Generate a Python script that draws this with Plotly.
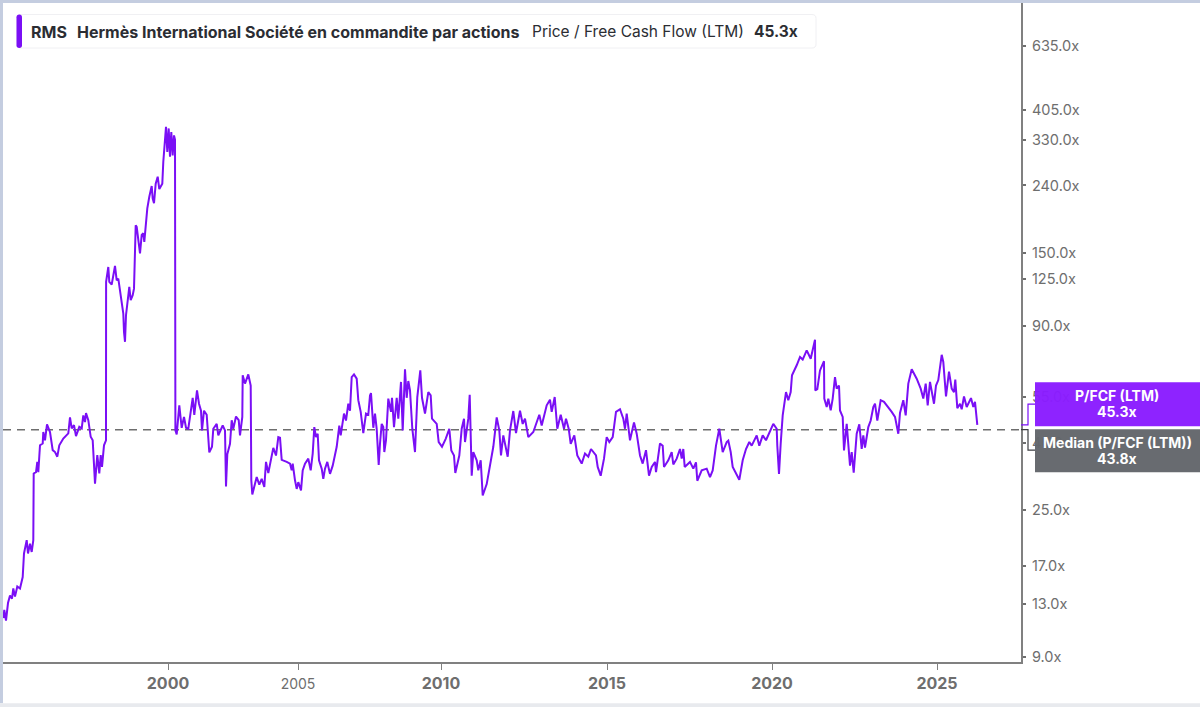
import plotly.graph_objects as go

# x axis of the source is ordinal (trading sessions), so obs is a session position and not a date
obs_a = [3.3,4.3,6,8,10,12,13.3,15,17.3,20,22.7,24,26.7,28,30,31.7,33.3,33.7,36,37.3,38.3,39.3,40,42.7,43.3,45,47,50,52.7,55,57.3,59.3,63.3,68.3,70,71.7,74,76,79.3,81.7,83.3,85,86,88.3,90.7,92.7,95,97.3,99.3,100.7,102,104,106]
pfcf_a = [11.8,12.5,11.6,13.1,13.8,13.5,14.5,13.7,14.7,14.5,15.7,18.5,20.3,18.5,19.8,18.7,20.3,32.3,32.6,35,32.6,36.7,39.3,39.8,43.1,40.7,45.5,43.1,38,37.5,36.3,39.3,41.2,42.7,47.7,44.2,45.2,41.9,44.7,44.2,48.4,46.2,49.2,46.8,41.7,40.7,30.1,36.7,32.3,36.7,33.8,39.3,40.7]

obs_b = [106.1,108.3,109.3,111.7,115,116.7,118.3,120,121.7,123.3,124,125,126,127.3,129.3,130.7,132.7,134,135,135.7,136.7,138.3,140,141.7,143.3,144.3,145.7,146,147.3,149.3,151.7,152.7,154,155.7,157.7,159.3,162.3,163.3,164.3,166,167.3,168.7,170,171.3,172.7,174,175]
pfcf_b = [122.6,136,122.6,120.4,137,124,125.5,114,106.5,98.4,86.5,80.8,97.2,104,118.5,108,111.8,117,162,182,180,166,149.5,170,172,162,182,186,204.5,221.8,239,219,212,243,255,234,243,283,310,361,303,357,293,348,296,340,330]

obs_c = [175.4,176.7,179.3,181.7,184,186,188.3,190.7,192.7,194.3,197,199,201,202,204,206.7,209.3,212,213.3,216.7,218.3,222.7,225,226,227.3,230,231.7,233.3,236,238.7,240,242.3,242.7,245,248.3,250.7,251.3,252.3,254,256.7,259.3,261.7,264.3,266,268.3,271.7,273.3,276,278.3,280,281.7,286.7,290,291.7,292.7,295,296.7,298.3,301,302.7,305,308.3,310.7,312.7,314.3,316,317.7,319,321.7,323.3,325,327.3,329.3]
pfcf_c = [43.6,42.4,51.9,44.4,47.9,44.4,44.1,49.6,54.7,48.6,57.6,52.5,50,43.6,50,48.6,37.4,38.9,44.1,45.6,42.1,45.1,43.6,29.5,36.9,39.7,46.8,44.1,48,46.8,42.1,47.9,64,60.4,64.4,59.6,30.8,27.9,29.4,31.5,29.9,31.1,29.4,35,32.4,36.6,38.6,36.6,41.6,41.4,35.5,35,34.6,33,34.6,30.8,29,30.4,28.7,33,34.6,35.8,33,37.1,44.6,41.6,42.6,35.4,33.4,31.1,33.4,35,33]

obs_d = [330,332.7,334.7,336.7,339.3,340.7,344,346,348.3,350,351.7,354,356.7,358.3,360.7,363.3,366,368.3,370,371,373.3,375,376.7,378.7,380,381.7,383.3,384.3,386,388.3,391,392,394,396.7,398.3,401,402.7,405,406.7,408.3,410,412.3,415,417.3,420.3,422,425,428.3,430.7,432,436.7,438.7,442,445.7,449.3,451.3,454,455.3,459.3,461.7,464,465,468.3,469.7,471.7,473.3,476.7,478.3,480.7,482.7,486.7,490.7,493.3,496.7,499.3,501,503.3,507.7,510,513.3,516,520,522.7,525,528.3,533.3,539.3,541.7,546.7,550,551.7,554.7,557.3,560.7,564,566,568.7,570.7,574.3,577.3,581.7,585,588.3,591,596,597.7,600.7,604,606.7,609.3,612.7,616,620,623.3,625,626.7,630,634,636.7,640,642.7,646,649,651.7,655,656,659.3]
pfcf_d = [32.2,34.1,36.3,38.9,45.1,42.1,49,46.7,52.5,50,63.2,64.4,62.5,53.8,49.6,42.8,49,48.6,55.6,56.5,44.4,49,44,34.3,39.8,45.6,44.6,37.5,40.7,54.4,49.6,54.7,44.6,54.7,47.3,61.1,43.6,66.7,54.7,61.5,57.6,44.1,37.5,55,66.2,54.7,49,56.9,55.6,47.3,45.6,40.2,38.9,41.1,44.1,37.9,36.6,32.4,36.6,44.1,47.3,40.2,47.3,55.9,31.8,37.5,35.4,33,35.4,27.7,30,34.6,38.9,47.7,43.6,36.6,42.1,36.3,43.6,49.9,42.8,50,45.6,47.3,41.6,43.1,48.6,45.1,51.9,54,49.6,55,44.1,48.6,44.1,47.3,44.1,39.7,42.1,36.6,34.6,37.1,36.3,38.3,36.6,33.8,31.8,35.8,41.6,40.2,41.6,49.6,50.5,47.3,44.1,49,40.7,46.1,42.6,36.6,34.6,38,31.8,33.8,35,32.6,38.9]

obs_e = [660,662.7,664,668.3,671.7,673.3,676.7,680,681.7,683.3,684.7,690,693.3,696,697.3,701.7,706.7,710,712.7,716,719.3,722.7,726.7,728.3,730.7,732.7,736,739.3,742.7,746,749.3,751.7,756.7,759.3,762.7,766,773.3,776.7,777.3,779,780.7,782.7,786,788.3,790.7,792,796.7,800,802.7,806.7,810.7,815,815.3,817.3,820,824,824.3,826.7,828.3,830.7,832.7,835,836.7,839,840,842.7,844,846.7,850,851.7,853.7,856.7,859.3,861.7,863.3,865,868.3,870.7,873.3,875,877.3,880.7,884,888.3,891.7,895,898.3,900,903.3,905.7,908.3,911.7,916.7,920.7,923.3,925.7,927.7,930,934,936,938.3,941.7,943.3,946,949,951.7,954,955.3,957.3,960,961.7,964,966.7,971,973.3,975,976,977.3]
pfcf_e = [39.8,39.2,33.8,35.4,37.5,34.4,35.8,38.3,35.8,38.3,33.8,35,33.4,34.9,30.7,33,33.4,31.5,33,39.2,44.1,37.5,40.2,40.6,37.5,33.8,32.2,30.9,35.4,38.3,40.2,39.2,42.1,39.2,42.1,40.7,45.6,44.1,39.2,32.2,39.8,48.4,56.9,53.8,56.9,64,68.6,72.7,71.4,76.1,71.8,82,57.6,58.1,66.2,70.6,54.4,51.3,54.4,50.1,54.4,63.2,58.3,59.6,50.1,47.9,37.9,45.6,34.1,37.5,32.5,42.6,45.5,38.3,42.1,38.7,44.6,46.7,51.3,52.5,46.7,53.8,53.2,51.3,49.6,47.9,42.6,49.2,53.8,48.4,60.4,66.7,62.5,58.3,54.4,60.4,51.9,61.1,52.5,59.6,61.9,73.8,70.2,55.2,65.6,58.3,56.9,62.1,50.9,52.5,50.5,55.2,51.3,54.6,51.3,53.2,48.4,45.3]

obs = obs_a + obs_b + obs_c + obs_d + obs_e
pfcf = pfcf_a + pfcf_b + pfcf_c + pfcf_d + pfcf_e

median_pfcf = 43.8
last_pfcf = 45.3
year_pos = [168, 298, 441, 607, 772, 937]
year_labels = ["<b>2000</b>", "<span style='font-size:14px'>2005</span>", "<b>2010</b>", "<b>2015</b>", "<b>2020</b>", "<b>2025</b>"]
y_ticks = [9, 13, 17, 25, 40, 55, 90, 125, 150, 240, 330, 405, 635]

PURPLE = "#7a0ff5"
GREY = "#63666b"
AXIS = "#808080"
FONT = "Inter"

# plot area in page pixels
L, R, T, B = 3, 1021, 3, 661.7


def px(x):
    return (x - L) / (R - L)


def py(y):
    return (B - y) / (B - T)


def round_rect(x0, y0, x1, y1, r):
    X0, X1 = px(x0), px(x1)
    Y0, Y1 = py(y0), py(y1)
    rx, ry = r / (R - L), r / (B - T)
    return (f"M{X0+rx},{Y0} L{X1-rx},{Y0} Q{X1},{Y0} {X1},{Y0-ry} L{X1},{Y1+ry} Q{X1},{Y1} {X1-rx},{Y1} "
            f"L{X0+rx},{Y1} Q{X0},{Y1} {X0},{Y1+ry} L{X0},{Y0-ry} Q{X0},{Y0} {X0+rx},{Y0} Z")


fig = go.Figure()
fig.add_trace(go.Scatter(x=[L, R], y=[median_pfcf, median_pfcf], mode="lines",
                         line=dict(color="#6e6e6e", width=1.5, dash="8px,6px"), hoverinfo="skip"))
fig.add_trace(go.Scatter(x=obs, y=pfcf, mode="lines", line=dict(color=PURPLE, width=2)))

shapes = [
    # page frame strips
    dict(type="rect", xref="paper", yref="paper", x0=px(0), x1=px(1200), y0=py(0), y1=py(3), fillcolor="#c4cde0", line_width=0),
    dict(type="rect", xref="paper", yref="paper", x0=px(0), x1=px(3), y0=py(0), y1=py(703), fillcolor="#c4cde0", line_width=0),
    dict(type="rect", xref="paper", yref="paper", x0=px(0), x1=px(1200), y0=py(703), y1=py(707), fillcolor="#e8eaee", line_width=0),
    # header box
    dict(type="path", xref="paper", yref="paper", path=round_rect(17, 14.5, 816, 48, 4), fillcolor="white", line=dict(color="#f0f0f3", width=1)),
    dict(type="path", xref="paper", yref="paper", path=round_rect(16.5, 14.5, 22, 48, 2.7), fillcolor=PURPLE, line_width=0),
    # value boxes on the right
    dict(type="rect", xref="paper", yref="paper", x0=px(1035), x1=px(1200), y0=py(382), y1=py(426), fillcolor="#8a1cff", opacity=0.97, line_width=0),
    dict(type="rect", xref="paper", yref="paper", x0=px(1035), x1=px(1200), y0=py(429), y1=py(472), fillcolor=GREY, opacity=0.97, line_width=0),
    # connectors from the axis to the boxes
    dict(type="path", xref="paper", yref="paper", path=f"M{px(1021)},{py(424.7)} L{px(1028)},{py(424.7)} L{px(1028)},{py(404)} L{px(1035)},{py(404)}", line=dict(color=PURPLE, width=1.2)),
    dict(type="path", xref="paper", yref="paper", path=f"M{px(1021)},{py(429.5)} L{px(1028)},{py(429.5)} L{px(1028)},{py(450)} L{px(1035)},{py(450)}", line=dict(color="#3c3e42", width=1.2)),
]


def label(x, y, text, size=16, color="#2b2d33", anchor="left"):
    return dict(xref="paper", yref="paper", x=px(x), y=py(y), text=text, showarrow=False, xanchor=anchor, yanchor="middle",
                font=dict(family=FONT, size=size, color=color), align="center")


annotations = [
    label(28.5, 31.5, "<b>RMS</b>"),
    label(74.5, 31.5, "<b>Hermès International Société en commandite par actions</b>"),
    label(529.5, 31.5, "Price / Free Cash Flow (LTM)", size=15.5),
    label(752, 31.5, "<b>45.3x</b>", size=15.5),
    label(1117, 395, "<b>P/FCF (LTM)</b>", size=14, color="white", anchor="center"),
    label(1117, 411, "<b>45.3x</b>", size=14, color="white", anchor="center"),
    label(1117, 442, "<b>Median (P/FCF (LTM))</b>", size=14, color="white", anchor="center"),
    label(1117, 458, "<b>43.8x</b>", size=14, color="white", anchor="center"),
]

fig.update_layout(
    width=1200, height=707, margin=dict(l=L, r=1200 - R, t=T, b=707 - B),
    paper_bgcolor="white", plot_bgcolor="white", showlegend=False,
    shapes=shapes, annotations=annotations, font=dict(family=FONT),
)
fig.update_xaxes(range=[L, R], tickmode="array", tickvals=year_pos, ticktext=year_labels, showgrid=False, zeroline=False,
                 showline=True, linecolor=AXIS, linewidth=1.5, ticks="outside", ticklen=6, tickcolor=AXIS, tickwidth=1,
                 tickfont=dict(family=FONT, size=16, color="#6e6e6e"))
fig.update_yaxes(type="log", range=[0.939, 2.932], side="right", tickmode="array", tickvals=y_ticks,
                 ticktext=[f"{v:.1f}x" for v in y_ticks], showgrid=False, zeroline=False,
                 showline=True, linecolor=AXIS, linewidth=2, ticks="outside", ticklen=3, tickcolor="#6e6e6e", tickwidth=2,
                 ticklabelstandoff=3, tickfont=dict(family=FONT, size=14.5, color="#6e6e6e"))

fig.write_html("out.html", config=dict(displayModeBar=False), post_script="document.body.style.margin='0'")
